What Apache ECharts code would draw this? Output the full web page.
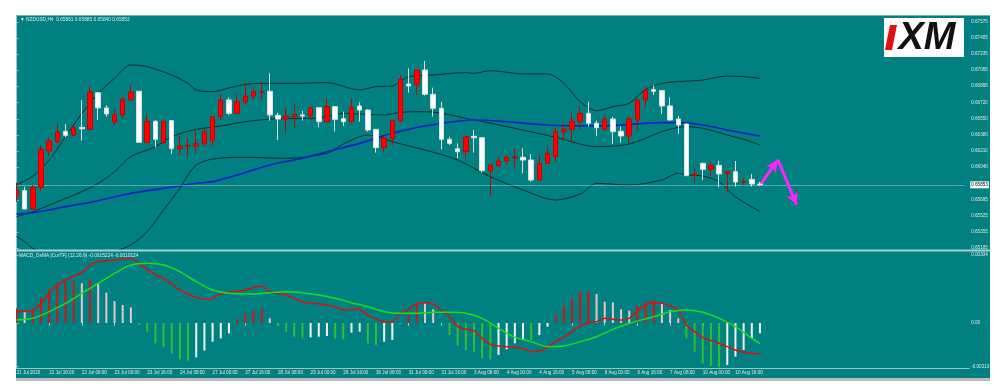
<!DOCTYPE html>
<html><head><meta charset="utf-8">
<script src="https://cdn.jsdelivr.net/npm/echarts@6/dist/echarts.min.js"></script>
<style>html,body{margin:0;padding:0;background:#fff}#c{width:1000px;height:388px}</style>
</head><body><div id="c"></div>
<script>
// ---------- DATA ----------
const open  = [0.65742,0.65792,0.65598,0.65827,0.66210,0.66309,0.66418,0.66376,0.66460,0.66439,0.66826,0.66665,0.66517,0.66594,0.66749,0.66841,0.66302,0.66524,0.66298,0.66531,0.66235,0.66263,0.66263,0.66288,0.66316,0.66573,0.66749,0.66608,0.66728,0.66791,0.66830,0.66841,0.66587,0.66548,0.66573,0.66591,0.66587,0.66668,0.66520,0.66679,0.66552,0.66520,0.66686,0.66643,0.66439,0.66246,0.66344,0.66527,0.66918,0.66911,0.67066,0.66809,0.66661,0.66334,0.66235,0.66203,0.66365,0.66351,0.66003,0.66059,0.66105,0.66140,0.66144,0.66115,0.65904,0.66080,0.66151,0.66415,0.66439,0.66524,0.66608,0.66503,0.66439,0.66548,0.66418,0.66369,0.66538,0.66749,0.66858,0.66848,0.66686,0.66548,0.66496,0.65953,0.66080,0.66017,0.66059,0.65971,0.65992,0.65879,0.65911,0.65861];
const high  = [0.65876,0.65834,0.65851,0.66274,0.66355,0.66496,0.66496,0.66474,0.66749,0.66897,0.66830,0.66696,0.66650,0.66784,0.66907,0.66845,0.66601,0.66538,0.66531,0.66538,0.66369,0.66344,0.66415,0.66439,0.66580,0.66812,0.66777,0.66819,0.66932,0.66883,0.66932,0.67031,0.66615,0.66672,0.66703,0.66633,0.66672,0.66672,0.66767,0.66686,0.66626,0.66767,0.66724,0.66654,0.66443,0.66369,0.66538,0.67013,0.67083,0.67070,0.67161,0.66879,0.66731,0.66362,0.66291,0.66369,0.66432,0.66355,0.66066,0.66144,0.66158,0.66239,0.66239,0.66179,0.66168,0.66256,0.66460,0.66503,0.66608,0.66679,0.66731,0.66531,0.66580,0.66573,0.66467,0.66580,0.66756,0.66890,0.66904,0.66852,0.66777,0.66580,0.66500,0.66027,0.66087,0.66087,0.66108,0.65995,0.66105,0.65922,0.65968,0.65885];
const low   = [0.65675,0.65594,0.65594,0.65792,0.66158,0.66291,0.66355,0.66369,0.66320,0.66432,0.66538,0.66573,0.66485,0.66555,0.66742,0.66298,0.66298,0.66249,0.66291,0.66179,0.66179,0.66144,0.66186,0.66256,0.66256,0.66538,0.66591,0.66601,0.66696,0.66756,0.66749,0.66531,0.66327,0.66397,0.66460,0.66531,0.66531,0.66460,0.66510,0.66415,0.66474,0.66503,0.66520,0.66415,0.66193,0.66203,0.66274,0.66520,0.66826,0.66802,0.66795,0.66573,0.66228,0.66274,0.66133,0.66144,0.66193,0.65982,0.65735,0.66045,0.66063,0.66045,0.65975,0.65887,0.65897,0.66073,0.66098,0.66327,0.66309,0.66432,0.66467,0.66369,0.66432,0.66284,0.66298,0.66298,0.66425,0.66682,0.66802,0.66601,0.66531,0.66390,0.65946,0.65876,0.65904,0.65946,0.65827,0.65770,0.65834,0.65851,0.65834,0.65840];
const close = [0.65792,0.65598,0.65827,0.66228,0.66316,0.66411,0.66376,0.66460,0.66446,0.66833,0.66665,0.66601,0.66594,0.66756,0.66833,0.66302,0.66524,0.66334,0.66524,0.66235,0.66263,0.66267,0.66288,0.66415,0.66573,0.66749,0.66608,0.66731,0.66791,0.66841,0.66837,0.66591,0.66548,0.66580,0.66594,0.66580,0.66668,0.66520,0.66679,0.66545,0.66520,0.66672,0.66643,0.66432,0.66246,0.66348,0.66531,0.66971,0.66897,0.67066,0.66809,0.66661,0.66334,0.66291,0.66203,0.66362,0.66351,0.66003,0.66063,0.66105,0.66144,0.66147,0.66115,0.65904,0.66080,0.66186,0.66415,0.66443,0.66524,0.66608,0.66503,0.66457,0.66548,0.66415,0.66369,0.66548,0.66749,0.66851,0.66841,0.66686,0.66538,0.66485,0.65950,0.65968,0.66017,0.66059,0.65968,0.65992,0.65883,0.65886,0.65862,0.65853];

// Bollinger bands and moving average: [bar index, price]
const bbUpper = [[0,0.65851],[2,0.65946],[4,0.66115],[6,0.66362],[8,0.66608],[10,0.66819],[12,0.66978],[14,0.67119],[16,0.67101],[19,0.67013],[21,0.66925],[22,0.66855],[24,0.66837],[26,0.66876],[28,0.66914],[30,0.66925],[34,0.66925],[38,0.66932],[42,0.66855],[44,0.66890],[46,0.66897],[48,0.66995],[51,0.67013],[55,0.67038],[56,0.67031],[58,0.67059],[62,0.67024],[65,0.67024],[67,0.66925],[69,0.66731],[71,0.66636],[73,0.66679],[75,0.66714],[77,0.66862],[79,0.66925],[81,0.66943],[84,0.66960],[87,0.67002],[89,0.66995],[91,0.66978]];
const bbMiddle = [[0,0.65517],[2,0.65570],[5,0.65675],[8,0.65781],[10,0.65869],[12,0.65992],[14,0.66151],[17,0.66256],[19,0.66362],[22,0.66439],[25,0.66474],[28,0.66520],[32,0.66552],[36,0.66555],[38,0.66573],[40,0.66608],[42,0.66601],[45,0.66591],[47,0.66619],[50,0.66626],[56,0.66538],[61,0.66450],[66,0.66355],[71,0.66256],[75,0.66284],[79,0.66415],[81,0.66460],[82,0.66467],[84,0.66450],[87,0.66379],[89,0.66334],[91,0.66274]];
const bbLower = [[0,0.65306],[1,0.65253],[2,0.65183],[4,0.65097],[8,0.64989],[12,0.65147],[14,0.65218],[16,0.65359],[18,0.65587],[20,0.65816],[21,0.65957],[22,0.66063],[24,0.66126],[28,0.66144],[33,0.66133],[38,0.66186],[40,0.66284],[43,0.66379],[45,0.66344],[46,0.66309],[50,0.66221],[54,0.66115],[58,0.65939],[62,0.65799],[66,0.65693],[69,0.65756],[71,0.65869],[75,0.65851],[79,0.65904],[81,0.65975],[82,0.65957],[84,0.65946],[86,0.65886],[88,0.65728],[91,0.65570]];
const maBlue = [[0,0.65545],[2,0.65559],[6,0.65623],[10,0.65686],[14,0.65763],[18,0.65816],[22,0.65869],[24,0.65887],[27,0.65957],[31,0.66063],[35,0.66133],[38,0.66203],[42,0.66291],[46,0.66397],[50,0.66474],[56,0.66538],[60,0.66520],[65,0.66485],[71,0.66474],[79,0.66510],[81,0.66510],[84,0.66485],[88,0.66415],[91,0.66369]];

// MACD panel
const macdMain = [[0,0.000555],[2,0.000637],[3,0.000963],[4,0.001453],[5,0.001862],[6,0.002107],[8,0.002466],[9,0.002841],[10,0.003005],[12,0.003086],[14,0.003168],[15,0.002923],[17,0.002352],[18,0.002188],[20,0.001617],[22,0.001257],[23,0.001159],[24,0.001208],[25,0.001421],[28,0.001617],[30,0.001813],[31,0.001535],[33,0.001372],[35,0.001045],[37,0.000931],[39,0.000800],[40,0.000637],[42,0.000670],[43,0.000392],[45,0.000065],[46,0.000065],[47,0.000474],[48,0.000670],[49,0.000963],[50,0.000996],[51,0.000931],[52,0.000637],[53,0.000310],[54,-0.000180],[55,-0.000310],[56,-0.000376],[57,-0.000751],[58,-0.001045],[59,-0.001127],[61,-0.001192],[62,-0.001241],[63,-0.001404],[64,-0.001372],[65,-0.001192],[66,-0.000914],[67,-0.000702],[68,-0.000425],[69,-0.000147],[70,0.000016],[71,0.000065],[72,0.000229],[73,0.000180],[74,0.000147],[75,0.000229],[76,0.000604],[77,0.000882],[78,0.000996],[79,0.000963],[80,0.000833],[81,0.000637],[82,-0.000098],[83,-0.000425],[84,-0.000702],[85,-0.000865],[86,-0.000996],[87,-0.001159],[88,-0.001323],[89,-0.001437],[91,-0.0015224]];
const macdSignal = [[0,0.000147],[2,0.000229],[4,0.000555],[6,0.000963],[8,0.001453],[10,0.001943],[12,0.002433],[14,0.002841],[16,0.002923],[18,0.002841],[20,0.002515],[22,0.002025],[24,0.001617],[26,0.001453],[29,0.001421],[31,0.001486],[33,0.001535],[35,0.001486],[37,0.001372],[39,0.001208],[41,0.000996],[43,0.000800],[45,0.000555],[47,0.000474],[49,0.000474],[51,0.000523],[53,0.000523],[55,0.000474],[57,0.000229],[59,-0.000261],[61,-0.000702],[63,-0.000914],[65,-0.001159],[67,-0.001127],[69,-0.000914],[71,-0.000670],[73,-0.000310],[75,-0.000016],[78,0.000310],[80,0.000555],[82,0.000637],[84,0.000523],[86,0.000229],[88,-0.000180],[90,-0.000751],[91,-0.0010124]];
const osma = [0.000719,0.000555,0.000637,0.001241,0.001649,0.001976,0.002025,0.002058,0.001943,0.002139,0.001943,0.001486,0.001078,0.000882,0.000767,-0.000098,-0.000425,-0.000996,-0.001159,-0.001486,-0.001780,-0.001845,-0.001682,-0.001355,-0.000914,-0.000751,-0.000506,0.000229,0.000474,0.000637,0.000670,0.000229,-0.000147,-0.000425,-0.000670,-0.000751,-0.000702,-0.000670,-0.000637,-0.000751,-0.000800,-0.000474,-0.000425,-0.000996,-0.001078,-0.000914,-0.000833,-0.000016,0.000392,0.000996,0.000963,0.000670,-0.000016,-0.000588,-0.001127,-0.001323,-0.001404,-0.001731,-0.001780,-0.001568,-0.001290,-0.000996,-0.000800,-0.000833,-0.000588,-0.000180,0.000392,0.000833,0.001208,0.001535,0.001568,0.001421,0.001045,0.001012,0.000670,0.000604,0.000800,0.001045,0.001159,0.000963,0.000637,0.000229,-0.000751,-0.001404,-0.001976,-0.002107,-0.002172,-0.002058,-0.001649,-0.001323,-0.000751,-0.000506];

// Tick labels
const timeLabels = ["21 Jul 2020","21 Jul 16:00","22 Jul 08:00","23 Jul 00:00","23 Jul 16:00","24 Jul 08:00","27 Jul 00:00","27 Jul 16:00","28 Jul 08:00","29 Jul 00:00","29 Jul 16:00","30 Jul 08:00","31 Jul 00:00","31 Jul 16:00","3 Aug 08:00","4 Aug 00:00","4 Aug 16:00","5 Aug 08:00","6 Aug 00:00","6 Aug 16:00","7 Aug 08:00","10 Aug 00:00","10 Aug 16:00"];
const priceLabels = ["0.67575","0.67405","0.67235","0.67065","0.66895","0.66720","0.66550","0.66380","0.66210","0.66040","0.65695","0.65525","0.65355","0.65185"];
const macdLabels = ["0.00334","0.00","-0.00213"];
const lastPrice = "0.65853";
const arrowPath = [[91,0.65853],[93.2,0.66116],[95.5,0.65641]];

// ---------- CHART ----------
const N = 117;
const cats = Array.from({length:N},(_,i)=>String(i));
const FONT = 'Liberation Sans';
const TXT = '#dcecec';
const FRAME = '#9cc6c6';
const chart = echarts.init(document.getElementById('c'));
const candles = open.map((o,i)=>[o, close[i], low[i], high[i]]);
const hist = osma.map((v,i)=>{
  const p = i>0 ? osma[i-1] : v;
  let c;
  if (v >= 0) c = (v >= p) ? '#d41515' : '#e6c6c6';
  else c = (v <= p) ? '#2fbf2f' : '#f4f4f4';
  return {value:v, itemStyle:{color:c}};
});
const tickShow = (i)=> i%4===0 && i<=88;
const lineS = (data,color,w)=>({type:'line', xAxisIndex:2, yAxisIndex:0, data, symbol:'none', smooth:0.3,
  lineStyle:{color, width:w}, silent:true, z:3});
const W = (x,y,w,h)=>({type:'rect',z:100,shape:{x,y,width:w,height:h},style:{fill:'#fff'},silent:true});
const lp = Number(lastPrice);

chart.setOption({
  animation:false,
  backgroundColor:'#008080',
  grid:[{left:16.5,right:35.8,top:16,height:234},{left:16.5,right:35.8,top:252,height:116}],
  xAxis:[
    {type:'category',gridIndex:0,data:cats,boundaryGap:false,show:false},
    {type:'category',gridIndex:1,data:cats,boundaryGap:false,
      axisLine:{show:false},
      axisTick:{show:true,interval:tickShow,length:3,lineStyle:{color:FRAME}},
      axisLabel:{show:true,interval:tickShow,formatter:(v,i)=>timeLabels[i/4]||'',align:'left',margin:2,
        fontSize:4.6,fontFamily:FONT,color:TXT},
      splitLine:{show:false}},
    {type:'value',gridIndex:0,min:0,max:N-1,show:false},
    {type:'value',gridIndex:1,min:0,max:N-1,show:false}
  ],
  yAxis:[
    {type:'value',gridIndex:0,min:0.65165,max:0.67636,position:'right',offset:5,splitLine:{show:false},
      axisLine:{show:true,lineStyle:{color:FRAME}},
      axisTick:{show:true,length:2,inside:false,customValues:priceLabels.map(Number),lineStyle:{color:FRAME}},
      axisLabel:{customValues:priceLabels.map(Number),formatter:v=>v.toFixed(5),margin:2,fontSize:4.6,fontFamily:FONT,color:TXT}},
    {type:'value',gridIndex:1,min:-0.002205,max:0.003479,position:'right',offset:5,splitLine:{show:false},
      axisLine:{show:true,lineStyle:{color:FRAME}},
      axisTick:{show:true,length:2,customValues:macdLabels.map(Number),lineStyle:{color:FRAME}},
      axisLabel:{customValues:macdLabels.map(Number),formatter:v=>macdLabels[macdLabels.map(Number).indexOf(v)]||String(v),
        margin:2,fontSize:4.6,fontFamily:FONT,color:TXT}}
  ],
  series:[
    Object.assign(lineS(bbUpper,'#0b2a2a',1),{z:1,
      markLine:{silent:true,symbol:'none',
        data:[[{coord:[0,lp]},{coord:[N-1,lp]}]],
        lineStyle:{color:'rgba(200,220,220,0.45)',width:1,type:'solid'},
        label:{show:true,position:'end',distance:6,formatter:lastPrice,backgroundColor:'#ffffff',color:'#000',
          fontSize:4.6,fontFamily:FONT,padding:[1,1]}}}),
    {type:'candlestick',xAxisIndex:0,yAxisIndex:0,data:candles,barWidth:5,clip:true,z:5,
      itemStyle:{color:'#ff0000',color0:'#ffffff',borderColor:'#c80000',borderColor0:'#d6e2e2',borderWidth:1}},
    lineS(bbMiddle,'#0b2a2a',1),
    lineS(bbLower,'#0b2a2a',1),
    Object.assign(lineS(maBlue,'#0a1ec8',1.6),{
      markLine:{silent:true,symbol:['none','arrow'],symbolSize:[9,12],
        lineStyle:{color:'#ff22ff',width:3,type:'solid'},label:{show:false},
        data:[[{coord:arrowPath[0]},{coord:arrowPath[1]}],[{coord:arrowPath[1]},{coord:arrowPath[2]}]]}}),
    {type:'bar',xAxisIndex:1,yAxisIndex:1,data:hist,barWidth:2,silent:true},
    {type:'line',xAxisIndex:3,yAxisIndex:1,data:macdMain,symbol:'none',smooth:0.3,lineStyle:{color:'#dd1010',width:1.5},z:4},
    {type:'line',xAxisIndex:3,yAxisIndex:1,data:macdSignal,symbol:'none',smooth:0.3,lineStyle:{color:'#18e018',width:1.5},z:4}
  ],
  graphic:[
    W(0,0,1000,15), W(0,0,16,388), W(990,0,10,388), W(0,381,1000,7),
    {type:'rect',z:100,shape:{x:16,y:378,width:974,height:3},style:{fill:'#bcbcbc'},silent:true},
    {type:'line',z:100,shape:{x1:16,y1:15.5,x2:990,y2:15.5},style:{stroke:'#6fb0b0',lineWidth:1},silent:true},
    {type:'line',z:100,shape:{x1:16,y1:250.5,x2:990,y2:250.5},style:{stroke:'#a6d0d0',lineWidth:2},silent:true},
    {type:'line',z:100,shape:{x1:16,y1:368.5,x2:969.5,y2:368.5},style:{stroke:FRAME,lineWidth:1},silent:true},
    {type:'text',z:100,x:20,y:17.5,style:{text:'\u25BC NZDUSD,H4  0.65861 0.65885 0.65840 0.65853',fill:TXT,font:'4.8px '+FONT}},
    {type:'text',z:100,x:19,y:253.5,style:{text:'MACD_OsMA [CurTF] (12,26,9) -0.0015224 -0.0010124',fill:TXT,font:'4.8px '+FONT}},
    {type:'group',z:100,children:[
      {type:'rect',z:100,shape:{x:884,y:18,width:80,height:39},style:{fill:'#ffffff'}},
      {type:'polygon',z:101,shape:{points:[[890,25],[897,25],[892,50],[885,50]]},style:{fill:'#e01010'}},
      {type:'text',z:101,x:927,y:38.5,style:{text:'XM',fill:'#111',font:'italic 900 38px Liberation Sans',align:'center',verticalAlign:'middle'}}
    ]}
  ]
});
</script></body></html>
